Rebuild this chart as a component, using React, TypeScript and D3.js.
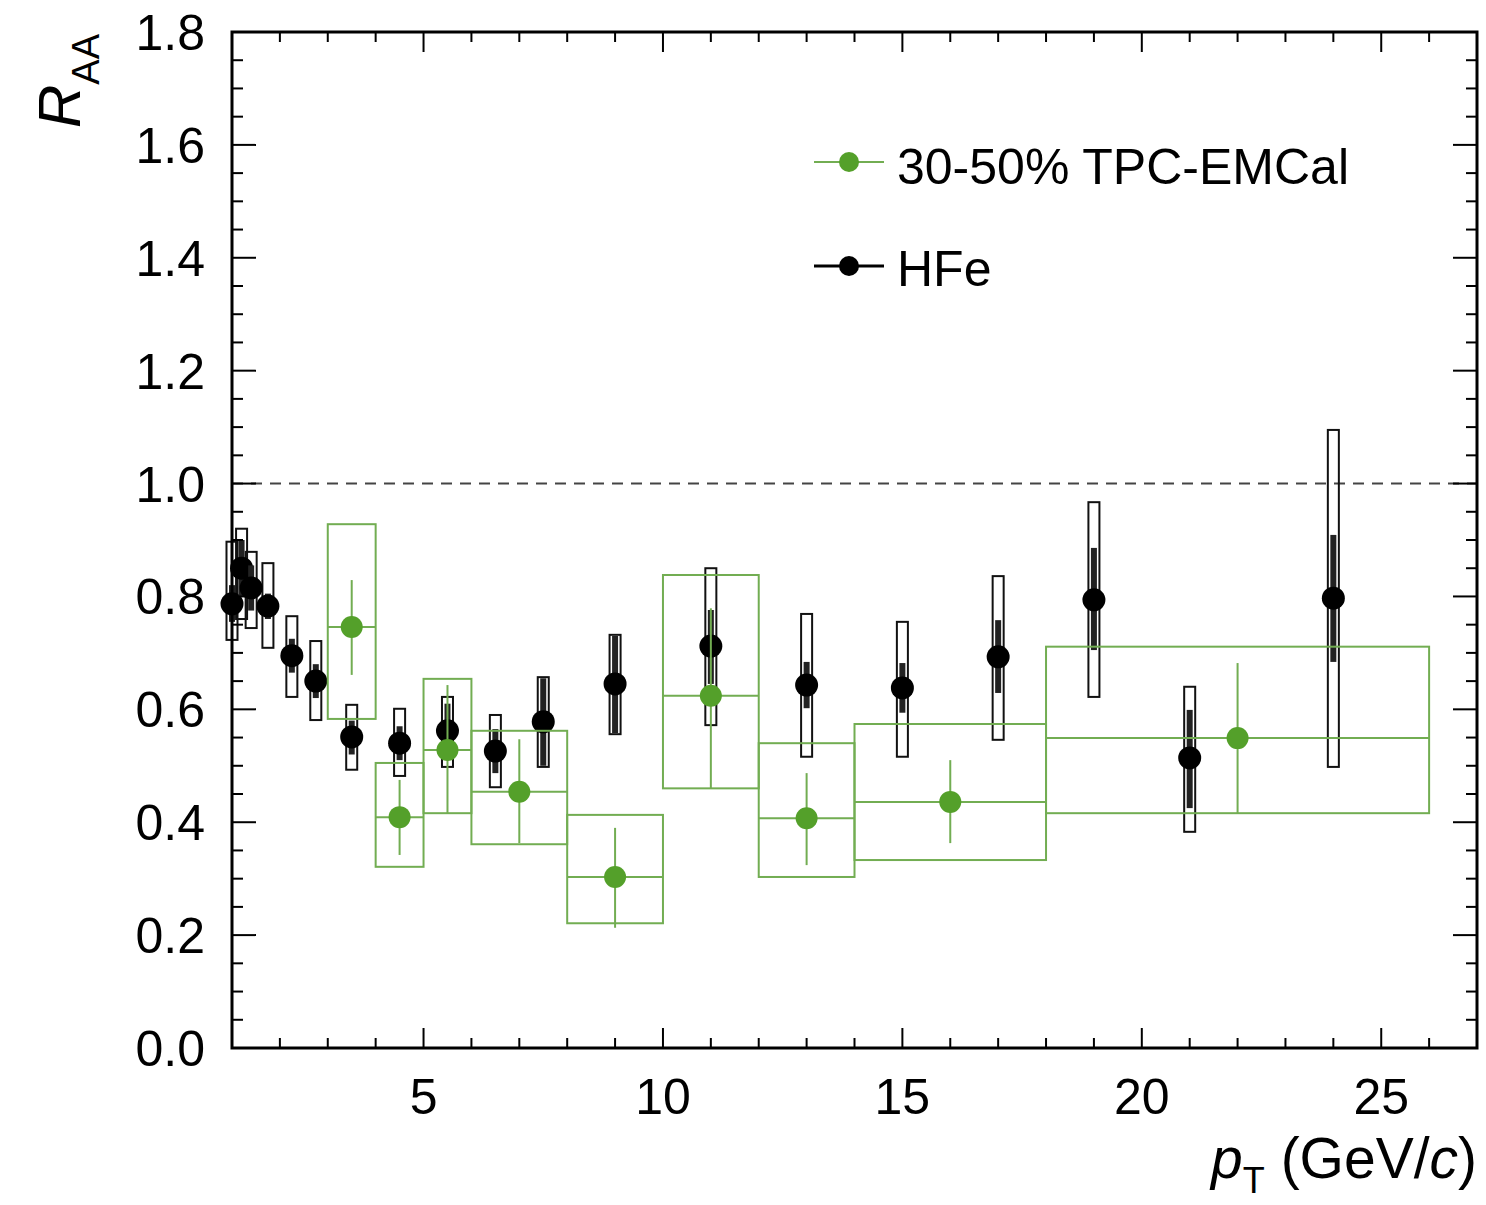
import React from 'react'
import * as d3 from 'd3'

// HFe (black)
const hfeX = [1.0, 1.2, 1.4, 1.75, 2.25, 2.75, 3.5, 4.5, 5.5, 6.5, 7.5, 9, 11, 13, 15, 17, 19, 21, 24]
const hfeY = [0.787, 0.85, 0.815, 0.783, 0.695, 0.65, 0.551, 0.54, 0.562, 0.526, 0.578, 0.645, 0.712, 0.643, 0.638, 0.693, 0.794, 0.514, 0.797]
const hfeStatHi = [0.82, 0.9, 0.855, 0.805, 0.725, 0.68, 0.58, 0.57, 0.61, 0.565, 0.655, 0.73, 0.776, 0.684, 0.682, 0.758, 0.886, 0.599, 0.909]
const hfeStatLo = [0.755, 0.8, 0.775, 0.76, 0.665, 0.62, 0.52, 0.51, 0.515, 0.487, 0.5, 0.558, 0.645, 0.602, 0.594, 0.629, 0.705, 0.425, 0.684]
const hfeSysHi = [0.897, 0.92, 0.879, 0.859, 0.765, 0.721, 0.608, 0.601, 0.622, 0.59, 0.657, 0.732, 0.85, 0.769, 0.755, 0.836, 0.967, 0.64, 1.095]
const hfeSysLo = [0.723, 0.76, 0.744, 0.709, 0.622, 0.581, 0.493, 0.482, 0.498, 0.462, 0.498, 0.556, 0.572, 0.516, 0.516, 0.546, 0.622, 0.383, 0.498]

// 30-50% TPC-EMCal (green)
const emcLo = [3, 4, 5, 6, 8, 10, 12, 14, 18]
const emcHi = [4, 5, 6, 8, 10, 12, 14, 18, 26]
const emcX = [3.5, 4.5, 5.5, 7, 9, 11, 13, 16, 22]
const emcY = [0.746, 0.409, 0.528, 0.454, 0.303, 0.624, 0.407, 0.436, 0.549]
const emcStatHi = [0.829, 0.475, 0.643, 0.547, 0.39, 0.779, 0.487, 0.51, 0.682]
const emcStatLo = [0.661, 0.342, 0.416, 0.363, 0.213, 0.46, 0.324, 0.363, 0.416]
const emcSysHi = [0.928, 0.505, 0.654, 0.562, 0.413, 0.838, 0.54, 0.574, 0.711]
const emcSysLo = [0.583, 0.321, 0.416, 0.361, 0.221, 0.46, 0.303, 0.333, 0.416]

const xTicks = [5, 10, 15, 20, 25]
const yTicks = [0, 0.2, 0.4, 0.6, 0.8, 1.0, 1.2, 1.4, 1.6, 1.8]

const font = '"Liberation Sans", Arial, Helvetica, sans-serif'
const green = '#54a02a'
const greenLine = '#72ad52'

export default function App() {
  const left = 232
  const right = 1477
  const top = 32
  const bottom = 1048

  const x = d3.scaleLinear().domain([1, 27]).range([left, right])
  const y = d3.scaleLinear().domain([0, 1.8]).range([bottom, top])

  const xMinor = d3.range(1, 28, 1).filter(v => v % 5 !== 0)
  const yMinor = d3.range(0, 1.8001, 0.05).filter(v => Math.abs(v * 5 - Math.round(v * 5)) > 0.01)

  const boxHalf = 0.115

  return (
    <svg width={1486} height={1205} style={{ position: 'absolute', left: 0, top: 0, background: '#fff' }}>
      {/* reference line */}
      <line x1={left} x2={right} y1={y(1)} y2={y(1)} stroke="#444" strokeWidth={2} strokeDasharray="11,8" />

      {/* HFe systematics and statistics */}
      <g>
        {hfeX.map((v, i) => (
          <rect key={'hs' + i}
            x={x(v - boxHalf)} width={x(v + boxHalf) - x(v - boxHalf)}
            y={y(hfeSysHi[i])} height={y(hfeSysLo[i]) - y(hfeSysHi[i])}
            fill="none" stroke="#111" strokeWidth={2} />
        ))}
        {hfeX.map((v, i) => (
          <g key={'he' + i}>
            <line x1={x(v)} x2={x(v)} y1={y(hfeStatHi[i])} y2={y(hfeStatLo[i])} stroke="#222" strokeWidth={6} />
            <circle cx={x(v)} cy={y(hfeY[i])} r={11.5} fill="#000" />
          </g>
        ))}
      </g>

      {/* TPC-EMCal */}
      <g>
        {emcX.map((v, i) => (
          <g key={'g' + i}>
            <rect x={x(emcLo[i])} width={x(emcHi[i]) - x(emcLo[i])}
              y={y(emcSysHi[i])} height={y(emcSysLo[i]) - y(emcSysHi[i])}
              fill="none" stroke={greenLine} strokeWidth={2} />
            <line x1={x(emcLo[i])} x2={x(emcHi[i])} y1={y(emcY[i])} y2={y(emcY[i])} stroke={greenLine} strokeWidth={2} />
            <line x1={x(v)} x2={x(v)} y1={y(emcStatHi[i])} y2={y(emcStatLo[i])} stroke={greenLine} strokeWidth={2} />
            <circle cx={x(v)} cy={y(emcY[i])} r={11} fill={green} />
          </g>
        ))}
      </g>

      {/* frame */}
      <rect x={left} y={top} width={right - left} height={bottom - top} fill="none" stroke="#000" strokeWidth={3} />

      {/* x ticks */}
      {xTicks.map(t => (
        <g key={'xt' + t}>
          <line x1={x(t)} x2={x(t)} y1={bottom} y2={bottom - 20} stroke="#000" strokeWidth={2} />
          <line x1={x(t)} x2={x(t)} y1={top} y2={top + 20} stroke="#000" strokeWidth={2} />
          <text x={x(t)} y={1114} textAnchor="middle" fontFamily={font} fontSize={50}>{t}</text>
        </g>
      ))}
      {xMinor.map(t => (
        <g key={'xm' + t}>
          <line x1={x(t)} x2={x(t)} y1={bottom} y2={bottom - 10} stroke="#000" strokeWidth={2} />
          <line x1={x(t)} x2={x(t)} y1={top} y2={top + 10} stroke="#000" strokeWidth={2} />
        </g>
      ))}

      {/* y ticks */}
      {yTicks.map(t => (
        <g key={'yt' + t}>
          <line x1={left} x2={left + 24} y1={y(t)} y2={y(t)} stroke="#000" strokeWidth={2} />
          <line x1={right} x2={right - 24} y1={y(t)} y2={y(t)} stroke="#000" strokeWidth={2} />
          <text x={205} y={y(t) + 18} textAnchor="end" fontFamily={font} fontSize={50}>{t.toFixed(1)}</text>
        </g>
      ))}
      {yMinor.map(t => (
        <g key={'ym' + t}>
          <line x1={left} x2={left + 11} y1={y(t)} y2={y(t)} stroke="#000" strokeWidth={2} />
          <line x1={right} x2={right - 11} y1={y(t)} y2={y(t)} stroke="#000" strokeWidth={2} />
        </g>
      ))}

      {/* axis titles */}
      <text x={1477} y={1178} textAnchor="end" fontFamily={font} fontSize={57}>
        <tspan fontStyle="italic">p</tspan>
        <tspan fontSize={36} dy={15}>T</tspan>
        <tspan dy={-15}> (GeV/</tspan>
        <tspan fontStyle="italic">c</tspan>
        <tspan>)</tspan>
      </text>
      <text transform="translate(80,128) rotate(-90)" fontFamily={font} fontSize={60}>
        <tspan fontStyle="italic">R</tspan>
        <tspan fontSize={38} dy={19}>AA</tspan>
      </text>

      {/* legend */}
      <g>
        <line x1={814} x2={884} y1={162} y2={162} stroke={greenLine} strokeWidth={2} />
        <circle cx={849} cy={162} r={10} fill={green} />
        <text x={897} y={184} fontFamily={font} fontSize={50}>30-50% TPC-EMCal</text>
        <line x1={814} x2={884} y1={266} y2={266} stroke="#000" strokeWidth={3} />
        <circle cx={849} cy={266} r={10} fill="#000" />
        <text x={897} y={286} fontFamily={font} fontSize={50}>HFe</text>
      </g>
    </svg>
  )
}
